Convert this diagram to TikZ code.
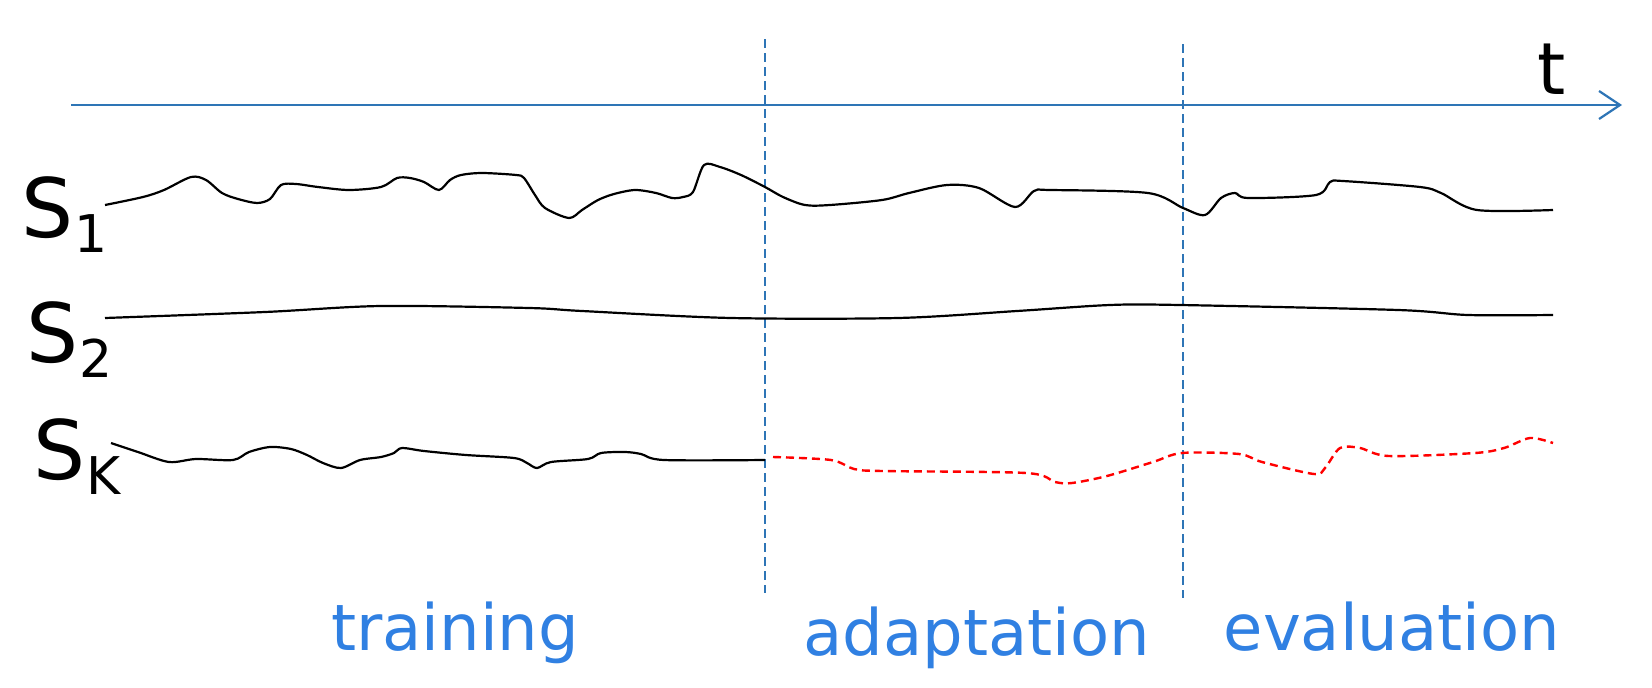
\documentclass[tikz,border=0pt]{standalone}
\usepackage{fontspec}
\setmainfont{DejaVu Sans}
\usetikzlibrary{arrows.meta}

\definecolor{axisblue}{RGB}{46,117,182}
\definecolor{phaseblue}{RGB}{48,128,226}

\newcommand{\seriesname}[1]{S\kern1pt\lower15pt\hbox{\fontsize{52}{52}\selectfont #1}}

\begin{document}
\begin{tikzpicture}[x=1pt,y=-1pt]
    \tikzstyle{series}=[inner sep=0pt,anchor=base west,font=\fontsize{82}{90}\selectfont]
    \tikzstyle{phase}=[inner sep=0pt,anchor=base,text=phaseblue,font=\fontsize{64}{70}\selectfont]
    \tikzstyle{signal}=[draw=black,line width=2.2pt,line join=round]
    \tikzstyle{future}=[draw=red,line width=2.4pt,line join=round,dash pattern=on 8pt off 5pt]
    \tikzstyle{split}=[draw=axisblue,line width=1.8pt,dash pattern=on 9pt off 5pt]
    \tikzstyle{timeaxis}=[draw=axisblue,line width=2.2pt,-{Straight Barb[length=21pt,width=28pt,line width=2.2pt]}]

    \useasboundingbox (0,0) rectangle (1652,688);

    % time axis
    \coordinate (t0) at (71,105);
    \coordinate (t1) at (1622,105);
    \node[inner sep=0pt,anchor=base,font=\fontsize{72}{76}\selectfont] (tlabel) at (1552,94) {t};
    \draw [timeaxis] (t0) -- (t1);

    % phase borders
    \coordinate (a0) at (765,39);
    \coordinate (a1) at (765,593);
    \coordinate (e0) at (1183,44);
    \coordinate (e1) at (1183,598);
    \draw [split] (a0) -- (a1);
    \draw [split] (e0) -- (e1);

    % series names
    \node[series] (s1) at (21,237) {\seriesname{1}};
    \node[series] (s2) at (26,362) {\seriesname{2}};
    \node[series] (sk) at (33,479) {\seriesname{K}};

    % phase names
    \node[phase] (train) at (455,650) {training};
    \node[phase] (adapt) at (977,655) {adaptation};
    \node[phase] (eval)  at (1392,650) {evaluation};

    % the series
    \draw [signal] plot[smooth,tension=0.5] coordinates {(105,205) (143,197) (164,190) (191,177) (206,180)
        (222,193) (238,199) (257,203) (270,199) (281,185) (296,184) (318,187) (349,190) (381,187)
        (397,178) (410,178) (424,182) (439,190) (450,180) (461,175) (482,173) (516,175) (524,178)
        (535,195) (545,208) (569,218) (582,210) (598,200) (614,194) (635,190) (656,193) (672,198)
        (683,197) (693,192) (704,165) (720,167) (741,175) (765,187) (783,197) (805,205) (830,205)
        (882,200) (909,193) (947,185) (979,188) (1015,207) (1034,191) (1050,190) (1148,193)
        (1183,208) (1205,215) (1221,198) (1235,193) (1248,198) (1316,195) (1330,182) (1343,181)
        (1420,187) (1441,193) (1477,210) (1553,210)};

    \draw [signal] plot[smooth,tension=0.5] coordinates {(105,318) (265,312) (381,306) (529,308)
        (582,311) (731,318) (898,318) (1017,311) (1110,305) (1180,305) (1398,310) (1468,315) (1553,315)};

    \draw [signal] plot[smooth,tension=0.5] coordinates {(111,443) (138,452) (169,462) (196,459)
        (233,460) (249,452) (270,447) (291,449) (307,455) (323,463) (341,468) (360,460) (381,457)
        (394,453) (402,448) (424,451) (466,455) (514,458) (527,463) (537,468) (551,462) (588,459)
        (601,453) (625,452) (641,454) (664,460) (765,460)};

    \draw [future] plot[smooth,tension=0.5] coordinates {(773,457) (831,460) (854,469) (882,471)
        (1026,473) (1055,482) (1072,483) (1107,476) (1153,462) (1182,453) (1239,454) (1262,462)
        (1314,474) (1325,468) (1340,448) (1360,448) (1389,456) (1475,453) (1504,448) (1530,438)
        (1553,443)};
\end{tikzpicture}
\end{document}
